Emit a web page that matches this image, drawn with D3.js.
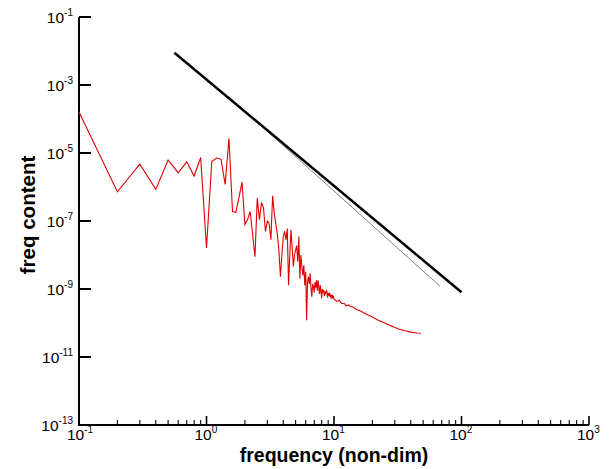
<!DOCTYPE html>
<html>
<head>
<meta charset="utf-8">
<script src="https://cdn.jsdelivr.net/npm/d3@7"></script>
<style>
  body { margin: 0; background: #fff; }
  svg { display: block; font-family: "Liberation Sans", Arial, sans-serif; }
</style>
</head>
<body>
<svg id="chart" width="614" height="469"></svg>
<script>
// spectrum
var freq = [
  0.1, 0.2, 0.3, 0.4, 0.5, 0.6, 0.7, 0.8, 0.9, 1.0,
  1.1, 1.2, 1.3, 1.4, 1.5, 1.6, 1.7, 1.8, 1.9, 2.0,
  2.1, 2.2, 2.3, 2.4, 2.5, 2.6, 2.7, 2.8, 2.9, 3.0,
  3.1, 3.2, 3.3, 3.4, 3.5, 3.6, 3.7, 3.8, 3.9, 4.0,
  4.1, 4.2, 4.3, 4.4, 4.5, 4.6, 4.7, 4.8, 4.9, 5.0,
  5.1, 5.2, 5.3, 5.4, 5.5, 5.6, 5.7, 5.8, 5.9, 6.0,
  6.1, 6.2, 6.3, 6.4, 6.5, 6.6, 6.7, 6.8, 6.9, 7.0,
  7.1, 7.2, 7.3, 7.4, 7.5, 7.6, 7.7, 7.8, 7.9, 8.0,
  8.1, 8.2, 8.3, 8.4, 8.5, 8.6, 8.7, 8.8, 8.9, 9.0,
  9.1, 9.2, 9.3, 9.4, 9.5, 9.6, 9.7, 9.8, 9.9, 10.0,
  10.5, 11, 11.5, 12, 12.5, 13, 13.5, 14, 15, 16,
  18, 20, 22, 25, 28, 32, 36, 40, 45, 48
];
var content = [
  1.6e-4, 7.2e-7, 4.7e-6, 8.5e-7, 6.2e-6, 2.6e-6, 5.5e-6, 2.1e-6, 7.4e-6, 1.6e-8,
  5.6e-6, 7.1e-6, 6.6e-6, 1.2e-6, 2.7e-5, 1.9e-7, 1.8e-7, 5.0e-7, 1.4e-6, 7.9e-8,
  1.1e-7, 1.9e-7, 4.0e-8, 8.9e-9, 4.7e-7, 1.1e-7, 3.5e-7, 2.4e-7, 4.9e-8, 1.0e-7,
  8.5e-8, 2.8e-8, 5.5e-7, 1.7e-7, 7.9e-8, 3.9e-8, 1.3e-8, 2.3e-9, 1.0e-8, 3.5e-8,
  5.0e-8, 2.8e-8, 6.0e-8, 1.3e-9, 1.0e-8, 5.5e-8, 1.6e-8, 4.6e-9, 1.0e-8, 1.4e-8,
  1.9e-8, 6.3e-9, 3.5e-8, 2.0e-9, 1.0e-8, 4.6e-9, 2.5e-9, 5.0e-9, 1.3e-9, 3.2e-9,
  1.2e-10, 1.6e-9, 2.3e-9, 1.4e-9, 2.9e-9, 1.1e-9, 5.9e-10, 1.4e-9, 1.2e-9, 7.9e-10,
  1.6e-9, 1.1e-9, 1.8e-9, 8.9e-10, 1.8e-9, 1.1e-9, 7.1e-10, 1.3e-9, 8.9e-10, 5.4e-10,
  1.0e-9, 7.9e-10, 9.3e-10, 6.3e-10, 8.3e-10, 7.1e-10, 8.9e-10, 8.3e-10, 5.6e-10, 7.6e-10,
  6.3e-10, 7.9e-10, 5.9e-10, 7.1e-10, 5.2e-10, 6.6e-10, 5.6e-10, 6.3e-10, 5.9e-10, 5.0e-10,
  4.3e-10, 4.7e-10, 3.7e-10, 3.8e-10, 3.2e-10, 3.4e-10, 3.0e-10, 3.0e-10, 2.5e-10, 2.3e-10,
  1.8e-10, 1.5e-10, 1.23e-10, 1.0e-10, 8.3e-11, 6.7e-11, 5.9e-11, 5.4e-11, 5.1e-11, 5.0e-11
];
// reference slope lines
var slopeThickX = [0.56, 100];
var slopeThickY = [8.9e-3, 8.0e-10];
var slopeThinX = [1.5, 68];
var slopeThinY = [4.5e-4, 1.2e-9];

var xTicks = [0.1, 1, 10, 100, 1000];
var xExp = ["-1", "0", "1", "2", "3"];
var yTicks = [1e-1, 1e-3, 1e-5, 1e-7, 1e-9, 1e-11, 1e-13];
var yExp = ["-1", "-3", "-5", "-7", "-9", "-11", "-13"];

var svg = d3.select("#chart");
var plotL = 79, plotR = 589, plotT = 17, plotB = 425;

var x = d3.scaleLog().domain([0.1, 1000]).range([plotL, plotR]);
var y = d3.scaleLog().domain([1e-13, 1e-1]).range([plotB, plotT]);

// minor x ticks 2..9 in each decade
var xMinor = [];
for (var d = 0.1; d < 1000; d *= 10) {
  for (var k = 2; k <= 9; k++) xMinor.push(d * k);
}

var axes = svg.append("g").attr("stroke", "#000").attr("fill", "none");

axes.selectAll("line.minor").data(xMinor).enter().append("line")
  .attr("x1", function(d) { return x(d); }).attr("x2", function(d) { return x(d); })
  .attr("y1", plotB).attr("y2", plotB - 5)
  .attr("stroke-width", 1.1);

axes.selectAll("line.xmajor").data(xTicks).enter().append("line")
  .attr("x1", function(d) { return x(d); }).attr("x2", function(d) { return x(d); })
  .attr("y1", plotB).attr("y2", plotB - 9)
  .attr("stroke-width", 1.6);

axes.selectAll("line.ymajor").data(yTicks).enter().append("line")
  .attr("x1", plotL).attr("x2", plotL + 12)
  .attr("y1", function(d) { return y(d); }).attr("y2", function(d) { return y(d); })
  .attr("stroke-width", 2);

axes.append("path")
  .attr("d", "M" + plotL + "," + plotT + "V" + plotB + "H" + plotR)
  .attr("stroke-width", 2);

// tick labels
var yl = svg.append("g").attr("font-size", 15.5).attr("fill", "#000");
yTicks.forEach(function(t, i) {
  var txt = yl.append("text").attr("x", plotL - 6).attr("y", y(t) + 6).attr("text-anchor", "end");
  txt.append("tspan").text("10");
  txt.append("tspan").attr("font-size", 10).attr("dy", -7).text(yExp[i]);
});

var xl = svg.append("g").attr("font-size", 15.5).attr("fill", "#000");
xTicks.forEach(function(t, i) {
  var txt = xl.append("text").attr("x", x(t) - 12).attr("y", plotB + 15);
  txt.append("tspan").text("10");
  txt.append("tspan").attr("font-size", 10).attr("dy", -7).text(xExp[i]);
});

svg.append("text")
  .attr("x", 334).attr("y", 462)
  .attr("text-anchor", "middle")
  .attr("font-size", 19.5).attr("font-weight", "bold")
  .text("frequency (non-dim)");

svg.append("text")
  .attr("transform", "translate(35,215) rotate(-90)")
  .attr("text-anchor", "middle")
  .attr("font-size", 20.5).attr("font-weight", "bold")
  .text("freq content");

var line = d3.line()
  .x(function(d) { return x(d[0]); })
  .y(function(d) { return y(d[1]); });

svg.append("path")
  .datum(d3.zip(freq, content))
  .attr("d", line)
  .attr("fill", "none")
  .attr("stroke", "#e00000")
  .attr("stroke-width", 1.1);

svg.append("path")
  .datum(d3.zip(slopeThinX, slopeThinY))
  .attr("d", line)
  .attr("fill", "none")
  .attr("stroke", "#808080")
  .attr("stroke-width", 1);

svg.append("path")
  .datum(d3.zip(slopeThickX, slopeThickY))
  .attr("d", line)
  .attr("fill", "none")
  .attr("stroke", "#000")
  .attr("stroke-width", 2.5);
</script>
</body>
</html>
